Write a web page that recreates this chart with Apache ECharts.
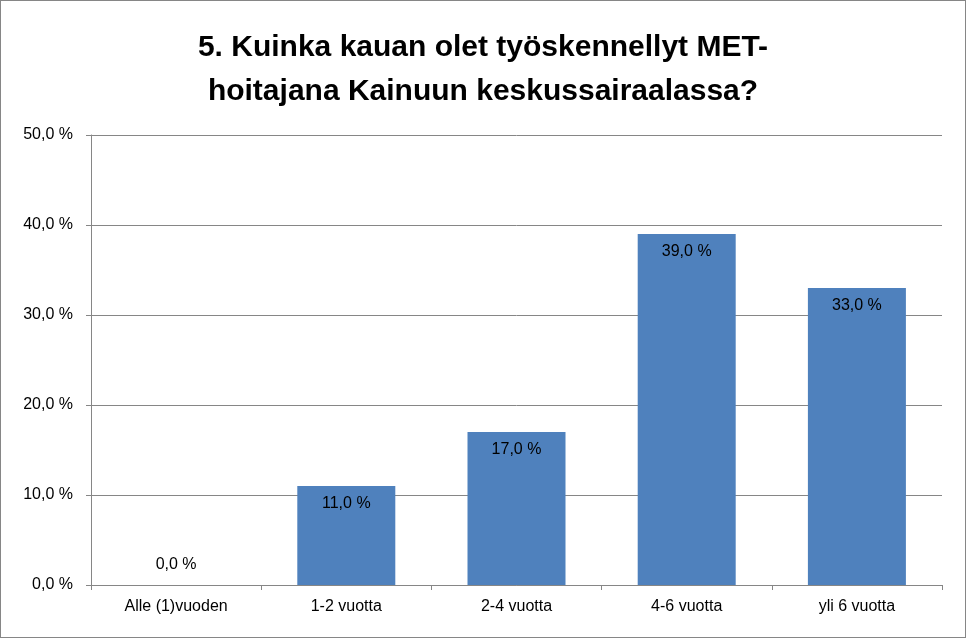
<!DOCTYPE html>
<html><head><meta charset="utf-8">
<script src="https://cdn.jsdelivr.net/npm/echarts@6/dist/echarts.min.js"></script>
<style>html,body{margin:0;padding:0;background:#fff}#c{width:966px;height:638px;box-sizing:border-box;border:1px solid #868686}</style>
</head><body><div id="c"></div>
<script>
const titleText = "5. Kuinka kauan olet työskennellyt MET-\nhoitajana Kainuun keskussairaalassa?";
const categories = ["Alle (1)vuoden","1-2 vuotta","2-4 vuotta","4-6 vuotta","yli 6 vuotta"];
const values = [0, 11, 17, 39, 33];
const fmt = v => v.toFixed(1).replace('.', ',') + ' %';
const chart = echarts.init(document.getElementById('c'));
chart.setOption({
  animation:false,
  textStyle:{fontFamily:'Liberation Sans'},
  title:{text:titleText,left:'center',top:20,textStyle:{fontSize:30,fontWeight:'bold',color:'#000',lineHeight:44,fontFamily:'Liberation Sans'}},
  grid:{left:90,right:23,top:134,bottom:52},
  xAxis:{type:'category',data:categories,axisLine:{lineStyle:{color:'#868686'}},axisTick:{show:true,alignWithLabel:false,lineStyle:{color:'#868686'}},
    axisLabel:{color:'#000',fontSize:16,margin:14}},
  yAxis:{type:'value',min:0,max:50,interval:10,axisLine:{show:true,lineStyle:{color:'#868686'}},axisTick:{show:true,lineStyle:{color:'#868686'}},
    splitLine:{lineStyle:{color:'#868686'}},axisLabel:{color:'#000',fontSize:16,margin:18,formatter:v=>fmt(v)}},
  series:[{type:'bar',data:values,barWidth:98,itemStyle:{color:'#4F81BD'},
    label:{show:true,position:'insideTop',distance:10,color:'#000',fontSize:16,formatter:p=>fmt(p.value)}}]
});
const opt = chart.getOption();
// place zero-value label above baseline
chart.setOption({series:[{data:values.map(v=>v===0?{value:v,label:{position:'top',distance:12}}:v)}]});
</script></body></html>
